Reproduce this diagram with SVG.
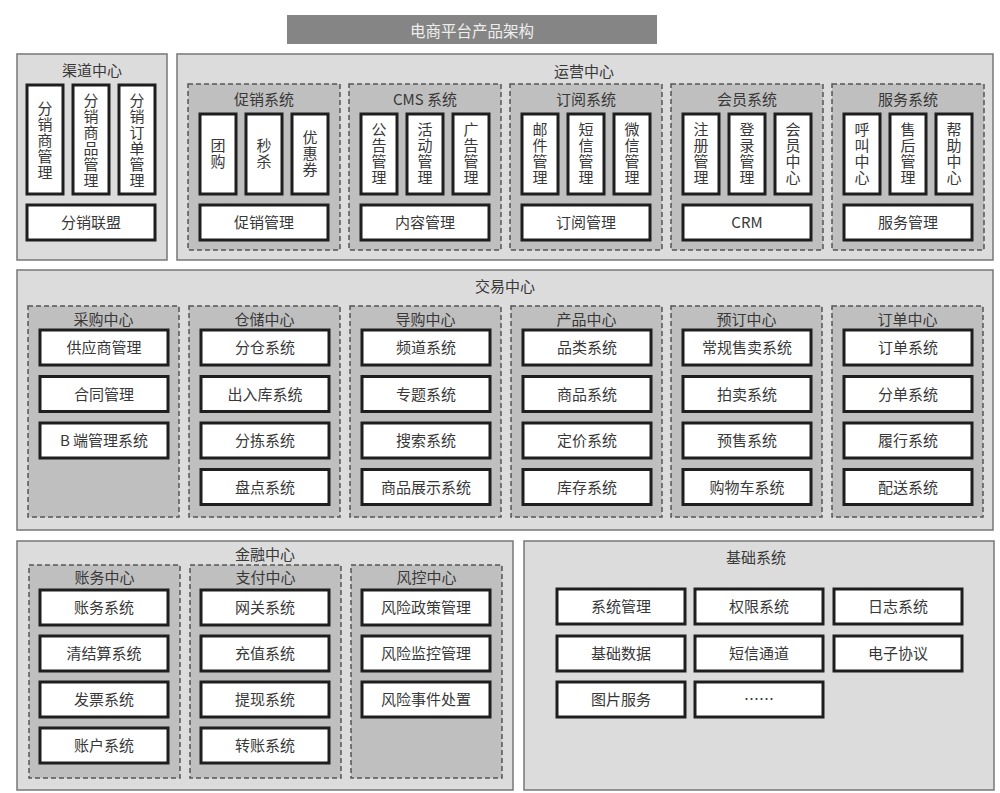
<svg xmlns="http://www.w3.org/2000/svg" width="1000" height="793" viewBox="0 0 1000 793">
<style>
text{font-family:"Noto Sans CJK SC","Liberation Sans",sans-serif;font-size:15px;fill:#383838;text-anchor:middle;dominant-baseline:central}
.v{writing-mode:vertical-rl;letter-spacing:1px}
.outer{fill:#dcdcdc;stroke:#777;stroke-width:1.5}
.dash{fill:#bfbfbf;stroke:#555;stroke-width:1.5;stroke-dasharray:5 3}
.box{fill:#fff;stroke:#1e1e1e;stroke-width:3}
.titlebar{fill:#858585}
.tt{fill:#eee;font-size:15.5px}
</style>
<rect width="1000" height="793" fill="#fff"/>
<g id="title"><rect class="titlebar" x="287" y="15" width="370" height="29"/><text class="tt" x="472" y="29.5">电商平台产品架构</text></g>

<g id="channel">
<rect class="outer" x="17" y="54" width="150" height="206"/><text x="92" y="69">渠道中心</text>
<g id="ch1"><rect class="box" x="27" y="85" width="36" height="109"/><text class="v" x="45" y="141">分销商管理</text></g>
<g id="ch2"><rect class="box" x="73" y="85" width="36" height="109"/><text class="v" x="91" y="141">分销商品管理</text></g>
<g id="ch3"><rect class="box" x="119" y="85" width="36" height="109"/><text class="v" x="137" y="141">分销订单管理</text></g>
<g id="ch4"><rect class="box" x="27" y="205" width="128" height="35"/><text x="91" y="221.5">分销联盟</text></g>
</g>

<g id="ops">
<rect class="outer" x="177" y="54" width="816" height="206"/><text x="584" y="70">运营中心</text>

<g id="promo"><rect class="dash" x="188" y="84" width="152" height="166"/><text x="264" y="98">促销系统</text>
<rect class="box" x="200" y="114" width="36" height="80"/><text class="v" x="218" y="154">团购</text>
<rect class="box" x="246" y="114" width="36" height="80"/><text class="v" x="264" y="154">秒杀</text>
<rect class="box" x="292" y="114" width="36" height="80"/><text class="v" x="310" y="154">优惠券</text>
<rect class="box" x="200" y="205" width="128" height="35"/><text x="264" y="221.5">促销管理</text></g>

<g id="cms"><rect class="dash" x="349" y="84" width="152" height="166"/><text x="425" y="98">CMS 系统</text>
<rect class="box" x="361" y="114" width="36" height="80"/><text class="v" x="379" y="154">公告管理</text>
<rect class="box" x="407" y="114" width="36" height="80"/><text class="v" x="425" y="154">活动管理</text>
<rect class="box" x="453" y="114" width="36" height="80"/><text class="v" x="471" y="154">广告管理</text>
<rect class="box" x="361" y="205" width="128" height="35"/><text x="425" y="221.5">内容管理</text></g>

<g id="sub"><rect class="dash" x="510" y="84" width="152" height="166"/><text x="586" y="98">订阅系统</text>
<rect class="box" x="522" y="114" width="36" height="80"/><text class="v" x="540" y="154">邮件管理</text>
<rect class="box" x="568" y="114" width="36" height="80"/><text class="v" x="586" y="154">短信管理</text>
<rect class="box" x="614" y="114" width="36" height="80"/><text class="v" x="632" y="154">微信管理</text>
<rect class="box" x="522" y="205" width="128" height="35"/><text x="586" y="221.5">订阅管理</text></g>

<g id="member"><rect class="dash" x="671" y="84" width="152" height="166"/><text x="747" y="98">会员系统</text>
<rect class="box" x="683" y="114" width="36" height="80"/><text class="v" x="701" y="154">注册管理</text>
<rect class="box" x="729" y="114" width="36" height="80"/><text class="v" x="747" y="154">登录管理</text>
<rect class="box" x="775" y="114" width="36" height="80"/><text class="v" x="793" y="154">会员中心</text>
<rect class="box" x="683" y="205" width="128" height="35"/><text x="747" y="221.5">CRM</text></g>

<g id="service"><rect class="dash" x="832" y="84" width="152" height="166"/><text x="908" y="98">服务系统</text>
<rect class="box" x="844" y="114" width="36" height="80"/><text class="v" x="862" y="154">呼叫中心</text>
<rect class="box" x="890" y="114" width="36" height="80"/><text class="v" x="908" y="154">售后管理</text>
<rect class="box" x="936" y="114" width="36" height="80"/><text class="v" x="954" y="154">帮助中心</text>
<rect class="box" x="844" y="205" width="128" height="35"/><text x="908" y="221.5">服务管理</text></g>
</g>

<g id="trade">
<rect class="outer" x="17" y="270" width="976" height="260"/><text x="505" y="285">交易中心</text>

<g id="purchase"><rect class="dash" x="28" y="306" width="151" height="211"/><text x="103.5" y="318">采购中心</text>
<rect class="box" x="40" y="330" width="128" height="35"/><text x="104" y="346.5">供应商管理</text>
<rect class="box" x="40" y="376.5" width="128" height="35"/><text x="104" y="393">合同管理</text>
<rect class="box" x="40" y="423" width="128" height="35"/><text x="104" y="439.5">B 端管理系统</text></g>

<g id="storage"><rect class="dash" x="189" y="306" width="151" height="211"/><text x="264.5" y="318">仓储中心</text>
<rect class="box" x="201" y="330" width="128" height="35"/><text x="265" y="346.5">分仓系统</text>
<rect class="box" x="201" y="376.5" width="128" height="35"/><text x="265" y="393">出入库系统</text>
<rect class="box" x="201" y="423" width="128" height="35"/><text x="265" y="439.5">分拣系统</text>
<rect class="box" x="201" y="469.5" width="128" height="35"/><text x="265" y="486">盘点系统</text></g>

<g id="guide"><rect class="dash" x="350" y="306" width="151" height="211"/><text x="425.5" y="318">导购中心</text>
<rect class="box" x="362" y="330" width="128" height="35"/><text x="426" y="346.5">频道系统</text>
<rect class="box" x="362" y="376.5" width="128" height="35"/><text x="426" y="393">专题系统</text>
<rect class="box" x="362" y="423" width="128" height="35"/><text x="426" y="439.5">搜索系统</text>
<rect class="box" x="362" y="469.5" width="128" height="35"/><text x="426" y="486">商品展示系统</text></g>

<g id="product"><rect class="dash" x="511" y="306" width="151" height="211"/><text x="586.5" y="318">产品中心</text>
<rect class="box" x="523" y="330" width="128" height="35"/><text x="587" y="346.5">品类系统</text>
<rect class="box" x="523" y="376.5" width="128" height="35"/><text x="587" y="393">商品系统</text>
<rect class="box" x="523" y="423" width="128" height="35"/><text x="587" y="439.5">定价系统</text>
<rect class="box" x="523" y="469.5" width="128" height="35"/><text x="587" y="486">库存系统</text></g>

<g id="booking"><rect class="dash" x="671" y="306" width="151" height="211"/><text x="746.5" y="318">预订中心</text>
<rect class="box" x="683" y="330" width="128" height="35"/><text x="747" y="346.5">常规售卖系统</text>
<rect class="box" x="683" y="376.5" width="128" height="35"/><text x="747" y="393">拍卖系统</text>
<rect class="box" x="683" y="423" width="128" height="35"/><text x="747" y="439.5">预售系统</text>
<rect class="box" x="683" y="469.5" width="128" height="35"/><text x="747" y="486">购物车系统</text></g>

<g id="order"><rect class="dash" x="832" y="306" width="151" height="211"/><text x="907.5" y="318">订单中心</text>
<rect class="box" x="844" y="330" width="128" height="35"/><text x="908" y="346.5">订单系统</text>
<rect class="box" x="844" y="376.5" width="128" height="35"/><text x="908" y="393">分单系统</text>
<rect class="box" x="844" y="423" width="128" height="35"/><text x="908" y="439.5">履行系统</text>
<rect class="box" x="844" y="469.5" width="128" height="35"/><text x="908" y="486">配送系统</text></g>
</g>

<g id="finance">
<rect class="outer" x="17" y="541" width="496" height="249"/><text x="265" y="553">金融中心</text>

<g id="account"><rect class="dash" x="29" y="565" width="151" height="213"/><text x="104.5" y="576.5">账务中心</text>
<rect class="box" x="40" y="590" width="128" height="35"/><text x="104" y="606.5">账务系统</text>
<rect class="box" x="40" y="636" width="128" height="35"/><text x="104" y="652.5">清结算系统</text>
<rect class="box" x="40" y="682" width="128" height="35"/><text x="104" y="698.5">发票系统</text>
<rect class="box" x="40" y="728" width="128" height="35"/><text x="104" y="744.5">账户系统</text></g>

<g id="pay"><rect class="dash" x="190" y="565" width="151" height="213"/><text x="265.5" y="576.5">支付中心</text>
<rect class="box" x="201" y="590" width="128" height="35"/><text x="265" y="606.5">网关系统</text>
<rect class="box" x="201" y="636" width="128" height="35"/><text x="265" y="652.5">充值系统</text>
<rect class="box" x="201" y="682" width="128" height="35"/><text x="265" y="698.5">提现系统</text>
<rect class="box" x="201" y="728" width="128" height="35"/><text x="265" y="744.5">转账系统</text></g>

<g id="risk"><rect class="dash" x="351" y="565" width="151" height="213"/><text x="426.5" y="576.5">风控中心</text>
<rect class="box" x="362" y="590" width="128" height="35"/><text x="426" y="606.5">风险政策管理</text>
<rect class="box" x="362" y="636" width="128" height="35"/><text x="426" y="652.5">风险监控管理</text>
<rect class="box" x="362" y="682" width="128" height="35"/><text x="426" y="698.5">风险事件处置</text></g>
</g>

<g id="base">
<rect class="outer" x="524" y="541" width="470" height="249"/><text x="756" y="556">基础系统</text>
<g id="b1"><rect class="box" x="557" y="589" width="128" height="35"/><text x="621" y="605.5">系统管理</text></g>
<g id="b2"><rect class="box" x="695" y="589" width="128" height="35"/><text x="759" y="605.5">权限系统</text></g>
<g id="b3"><rect class="box" x="834" y="589" width="128" height="35"/><text x="898" y="605.5">日志系统</text></g>
<g id="b4"><rect class="box" x="557" y="636" width="128" height="35"/><text x="621" y="652.5">基础数据</text></g>
<g id="b5"><rect class="box" x="695" y="636" width="128" height="35"/><text x="759" y="652.5">短信通道</text></g>
<g id="b6"><rect class="box" x="834" y="636" width="128" height="35"/><text x="898" y="652.5">电子协议</text></g>
<g id="b7"><rect class="box" x="557" y="682" width="128" height="35"/><text x="621" y="698.5">图片服务</text></g>
<g id="b8"><rect class="box" x="695" y="682" width="128" height="35"/><text x="759" y="698.5">……</text></g>
</g>
<g id="connectors"/>
</svg>
